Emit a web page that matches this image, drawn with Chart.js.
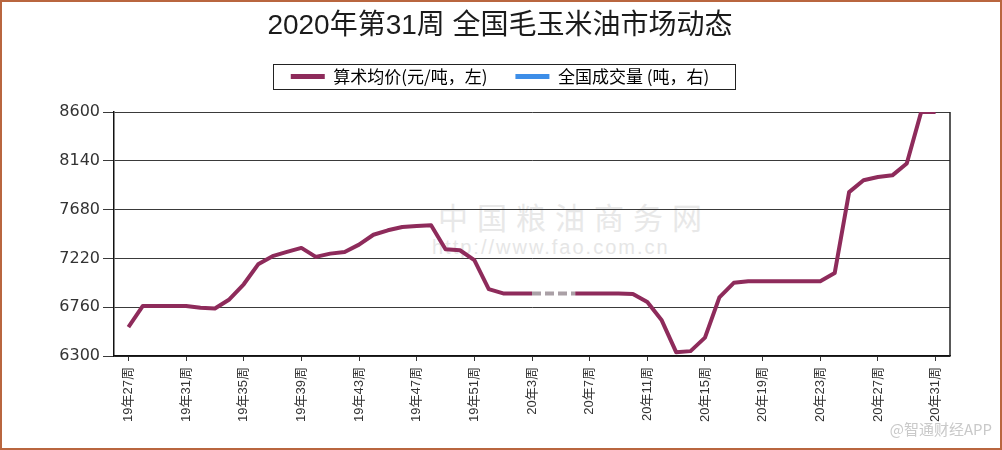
<!DOCTYPE html>
<html lang="zh">
<head>
<meta charset="utf-8">
<title>2020年第31周 全国毛玉米油市场动态</title>
<script src="https://cdn.jsdelivr.net/npm/chart.js@4.4.1/dist/chart.umd.min.js"></script>
<style>
  html, body { margin: 0; padding: 0; background: #fff; }
  #frame { position: relative; width: 1002px; height: 450px; box-sizing: border-box; border: 2px solid #b9663f; overflow: hidden; }
  #chart { position: relative; z-index: 1; }
  .mark { position: absolute; white-space: nowrap; }
  #fao { left: 436px; top: 192px; z-index: 0; font-size: 30px; letter-spacing: 9px; color: #e8e8e8; font-family: "Noto Sans CJK SC", sans-serif; }
  #faoUrl { left: 430px; top: 234px; z-index: 0; font-size: 20px; letter-spacing: 2px; color: #e6e6e6; font-family: "Liberation Sans", sans-serif; }
  #source { right: 8px; bottom: 9px; z-index: 2; font-size: 15px; color: #c9c9c9; font-family: "Noto Sans CJK SC", sans-serif; }
</style>
</head>
<body>
<div id="frame">
  <div class="mark" id="fao">中国粮油商务网</div>
  <div class="mark" id="faoUrl">http://www.fao.com.cn</div>
  <canvas id="chart" width="998" height="446"></canvas>
  <div class="mark" id="source">@智通财经APP</div>
</div>
<script>
// Weeks: 2019 wk27 .. 2020 wk31
const weekLabels = [
  '19年27周', '19年28周', '19年29周', '19年30周', '19年31周', '19年32周', '19年33周', '19年34周',
  '19年35周', '19年36周', '19年37周', '19年38周', '19年39周', '19年40周', '19年41周', '19年42周',
  '19年43周', '19年44周', '19年45周', '19年46周', '19年47周', '19年48周', '19年49周', '19年50周',
  '19年51周', '19年52周',
  '20年1周', '20年2周', '20年3周', '20年4周', '20年5周', '20年6周', '20年7周', '20年8周',
  '20年9周', '20年10周', '20年11周', '20年12周', '20年13周', '20年14周', '20年15周', '20年16周',
  '20年17周', '20年18周', '20年19周', '20年20周', '20年21周', '20年22周', '20年23周', '20年24周',
  '20年25周', '20年26周', '20年27周', '20年28周', '20年29周', '20年30周', '20年31周'
];

// Arithmetic average price (yuan/ton); null = no quote (Spring Festival)
const avgPrice = [
  6573, 6772, 6772, 6772, 6772, 6755, 6748, 6833,
  6976, 7164, 7241, 7281, 7319, 7234, 7265, 7281,
  7350, 7443, 7485, 7516, 7525, 7532, 7306, 7297,
  7203, 6930,
  6890, 6890, 6890, null, null, 6890, 6890, 6890,
  6890, 6885, 6808, 6636, 6336, 6346, 6473, 6853,
  6990, 7005, 7005, 7005, 7005, 7005, 7005, 7082,
  7845, 7956, 7987, 8003, 8114, 8600, 8600
];

// Volume series is only shown in the legend (no values in the picture)
const volume = [];

const tickLabels = [
  '19年27周', '19年31周', '19年35周', '19年39周', '19年43周', '19年47周', '19年51周', '20年3周',
  '20年7周', '20年11周', '20年15周', '20年19周', '20年23周', '20年27周', '20年31周'
];

const yMin = 6300;
const yMax = 8600;
const yStep = 460;

const lineColor = '#8e2b5b';
const gapColor = '#aaa0a6';
const volumeColor = '#3d8ee8';

const skipped = (c, value) => c.p0.skip || c.p1.skip ? value : undefined;

// Box round the legend + right edge of the plot
const legendBox = {
  id: 'legendBox',
  beforeInit(chart) {
    // leave some room between legend and plot
    const fit = chart.legend.fit;
    chart.legend.fit = function () {
      fit.bind(chart.legend)();
      this.height += 17;
    };
  },
  afterDraw(chart) {
    const boxes = chart.legend.legendHitBoxes;
    const c = chart.ctx;
    const a = chart.chartArea;
    c.save();
    c.strokeStyle = '#222';
    c.lineWidth = 1;
    if (boxes.length) {
      const first = boxes[0];
      const last = boxes[boxes.length - 1];
      const left = Math.round(first.left - 18) + 0.5;
      const right = Math.round(last.left + last.width + 26) + 0.5;
      const top = Math.round(first.top - 4) + 0.5;
      c.strokeRect(left, top, right - left, Math.round(first.height + 8));
    }
    c.lineWidth = 1.5;
    c.beginPath();
    c.moveTo(a.right, a.top);
    c.lineTo(a.right, a.bottom);
    c.stroke();
    c.restore();
  }
};

new Chart(document.getElementById('chart'), {
  type: 'line',
  data: {
    datasets: [
      {
        label: '算术均价(元/吨，左)',
        data: avgPrice.map((v, i) => ({ x: i, y: v })),
        borderColor: lineColor,
        backgroundColor: lineColor,
        borderWidth: 4,
        borderJoinStyle: 'round',
        pointRadius: 0,
        tension: 0,
        spanGaps: true,
        segment: {
          borderColor: c => skipped(c, gapColor),
          borderDash: c => skipped(c, [9, 4])
        }
      },
      {
        type: 'bar',
        label: '全国成交量 (吨，右)',
        data: volume,
        backgroundColor: volumeColor
      }
    ]
  },
  options: {
    responsive: false,
    animation: false,
    layout: { padding: { top: 0, left: 48, right: 50, bottom: 0 } },
    plugins: {
      title: {
        display: true,
        text: '2020年第31周 全国毛玉米油市场动态',
        color: '#1b1b1b',
        font: { family: '"Liberation Sans", "Noto Sans CJK SC", sans-serif', size: 28, weight: 'normal', lineHeight: 1 },
        padding: { top: 10, bottom: 0 }
      },
      legend: {
        labels: {
          color: '#111',
          font: { family: '"Noto Sans CJK SC", sans-serif', size: 17 },
          boxWidth: 34,
          boxHeight: 5,
          padding: 28,
          generateLabels: chart => chart.data.datasets.map((ds, i) => ({
            text: ds.label,
            fillStyle: ds.type === 'bar' ? ds.backgroundColor : ds.borderColor,
            strokeStyle: ds.type === 'bar' ? ds.backgroundColor : ds.borderColor,
            lineWidth: 0,
            hidden: false,
            datasetIndex: i
          }))
        },
        onClick: null
      },
      tooltip: { enabled: false }
    },
    scales: {
      x: {
        type: 'linear',
        min: -1,
        max: weekLabels.length,
        offset: false,
        afterBuildTicks: scale => {
          scale.ticks = tickLabels.map(t => ({ value: weekLabels.indexOf(t) }));
        },
        afterFit: scale => { scale.height = 92; },
        grid: { offset: false, drawOnChartArea: false, color: '#333', tickLength: 5 },
        border: { color: '#111', width: 1.5 },
        ticks: {
          autoSkip: false,
          minRotation: 90,
          maxRotation: 90,
          padding: 6,
          color: '#333',
          font: { family: '"Liberation Sans", "Noto Sans CJK SC", sans-serif', size: 13 },
          callback: v => weekLabels[v]
        }
      },
      y: {
        min: yMin,
        max: yMax,
        afterFit: scale => { scale.width = 64; },
        grid: { color: '#3a3a3a', tickLength: 11 },
        border: { color: '#111', width: 1.5 },
        ticks: {
          stepSize: yStep,
          padding: 3,
          color: '#333',
          font: { family: '"DejaVu Sans", sans-serif', size: 16 },
          callback: v => String(v)
        }
      }
    }
  },
  plugins: [legendBox]
});
</script>
</body>
</html>
